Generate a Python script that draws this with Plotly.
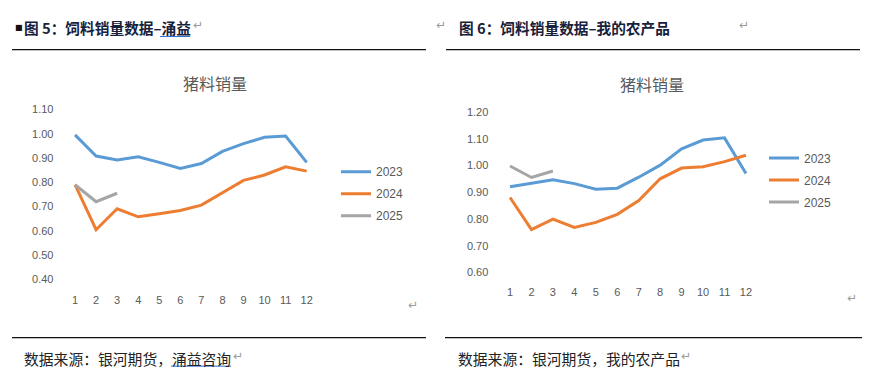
import plotly.graph_objects as go

months = list(range(1, 13))
month_labels = [str(m) for m in months]

# Left chart (涌益)
yy_2023 = [0.995, 0.908, 0.892, 0.905, 0.882, 0.857, 0.877, 0.927, 0.959, 0.985, 0.99, 0.882]
yy_2024 = [0.79, 0.605, 0.691, 0.658, 0.671, 0.684, 0.706, 0.757, 0.808, 0.83, 0.864, 0.846]
yy_2025 = [0.79, 0.72, 0.755]

# Right chart (我的农产品)
wd_2023 = [0.92, 0.932, 0.946, 0.932, 0.911, 0.915, 0.956, 1.001, 1.062, 1.095, 1.103, 0.97]
wd_2024 = [0.88, 0.76, 0.799, 0.768, 0.787, 0.817, 0.869, 0.95, 0.99, 0.995, 1.014, 1.038]
wd_2025 = [0.998, 0.955, 0.979]

years = ["2023", "2024", "2025"]
colors = {"2023": "#5B9BD5", "2024": "#ED7D31", "2025": "#A5A5A5"}

W, H = 876, 386
def px(x):
    return x / W
def py(y):
    return 1 - y / H

fig = go.Figure()

left_series = {"2023": yy_2023, "2024": yy_2024, "2025": yy_2025}
right_series = {"2023": wd_2023, "2024": wd_2024, "2025": wd_2025}

for yr in years:
    vals = left_series[yr]
    fig.add_trace(go.Scatter(x=months[:len(vals)], y=vals, mode="lines", name=yr,
                             line=dict(color=colors[yr], width=3), xaxis="x", yaxis="y",
                             legend="legend", legendgroup="l" + yr, hoverinfo="skip"))
for yr in years:
    vals = right_series[yr]
    fig.add_trace(go.Scatter(x=months[:len(vals)], y=vals, mode="lines", name=yr,
                             line=dict(color=colors[yr], width=3), xaxis="x2", yaxis="y2",
                             legend="legend2", legendgroup="r" + yr, hoverinfo="skip"))

tick_font = dict(family="Liberation Sans, Arial, sans-serif", size=11, color="#595959")
legend_font = dict(family="Liberation Sans, Arial, sans-serif", size=12, color="#595959")
common_x = dict(tickmode="array", tickvals=months, ticktext=month_labels, range=[0.5, 12.5],
                showgrid=False, zeroline=False, showline=False, ticks="", tickfont=tick_font,
                ticklabelstandoff=12, fixedrange=True)
common_y = dict(dtick=0.1, tickformat=".2f", showgrid=False, zeroline=False, showline=False,
                ticks="", tickfont=tick_font, ticklabelstandoff=10, fixedrange=True)

legend_common = dict(font=legend_font, bgcolor="rgba(0,0,0,0)", borderwidth=0,
                     tracegroupgap=3, xanchor="left", yanchor="top", itemwidth=30)

fig.update_layout(
    width=W, height=H, autosize=False,
    margin=dict(l=0, r=0, t=0, b=0),
    paper_bgcolor="white", plot_bgcolor="white",
    showlegend=True,
    xaxis=dict(domain=[px(64.5), px(317.2)], anchor="y", **common_x),
    yaxis=dict(domain=[py(282.3), py(106.7)], anchor="x", range=[0.4, 1.1], **common_y),
    xaxis2=dict(domain=[px(499.3), px(756.7)], anchor="y2", **common_x),
    yaxis2=dict(domain=[py(275), py(109.3)], anchor="x2", range=[0.6, 1.2], **common_y),
    legend=dict(x=px(336), y=py(156), **legend_common),
    legend2=dict(x=px(764), y=py(142), **legend_common),
)

header_font = dict(family="Noto Sans CJK SC", size=14.7, color="#17213b")
title_font = dict(family="Noto Sans CJK SC", size=16, color="#595959")
src_font = dict(family="Noto Sans CJK SC", size=14.8, color="#222222")
mark_font = dict(family="DejaVu Sans", size=12, color="#9a9a9a")

annos = [
    dict(x=px(13), y=py(22), text="■", font=dict(family="DejaVu Sans", size=8, color="#111111"), xanchor="left"),
    dict(x=px(22), y=py(22.5), text="<b>图 5：饲料销量数据–涌益</b>", font=header_font, xanchor="left"),
    dict(x=px(191), y=py(20), text="↵", font=mark_font, xanchor="left"),
    dict(x=px(434), y=py(20), text="↵", font=mark_font, xanchor="left"),
    dict(x=px(457), y=py(22.5), text="<b>图 6：饲料销量数据–我的农产品</b>", font=header_font, xanchor="left"),
    dict(x=px(737), y=py(20), text="↵", font=mark_font, xanchor="left"),
    dict(x=px(215), y=py(79.5), text="猪料销量", font=title_font, xanchor="center"),
    dict(x=px(652), y=py(80), text="猪料销量", font=title_font, xanchor="center"),
    dict(x=px(406), y=py(309), text="↵", font=mark_font, xanchor="left"),
    dict(x=px(845), y=py(301), text="↵", font=mark_font, xanchor="left"),
    dict(x=px(21.5), y=py(364), text="数据来源：银河期货，涌益咨询", font=src_font, xanchor="left"),
    dict(x=px(231), y=py(361), text="↵", font=mark_font, xanchor="left"),
    dict(x=px(456), y=py(363.5), text="数据来源：银河期货，我的农产品", font=src_font, xanchor="left"),
    dict(x=px(679), y=py(361), text="↵", font=mark_font, xanchor="left"),
]
for a in annos:
    a.update(xref="paper", yref="paper", showarrow=False, yanchor="middle")
fig.update_layout(annotations=annos)

shapes = [
    dict(type="line", x0=px(12), x1=px(426), y0=py(45), y1=py(45), line=dict(color="#111111", width=1.2)),
    dict(type="line", x0=px(446), x1=px(860), y0=py(45), y1=py(45), line=dict(color="#111111", width=1.2)),
    dict(type="line", x0=px(12), x1=px(426), y0=py(342.3), y1=py(342.3), line=dict(color="#111111", width=1.2)),
    dict(type="line", x0=px(445), x1=px(862), y0=py(342.3), y1=py(342.3), line=dict(color="#111111", width=1.2)),
    # underlines of linked text
    dict(type="line", x0=px(160), x1=px(190), y0=py(31.5), y1=py(31.5), line=dict(color="#2f6fd6", width=1)),
    dict(type="line", x0=px(171), x1=px(231), y0=py(371.7), y1=py(371.7), line=dict(color="#2f6fd6", width=1)),
]
for s in shapes:
    s.update(xref="paper", yref="paper")
fig.update_layout(shapes=shapes)

fig.write_html("out.html",
               config={"displayModeBar": False, "staticPlot": True},
               post_script="document.body.style.margin='0';document.body.style.overflow='hidden';")
